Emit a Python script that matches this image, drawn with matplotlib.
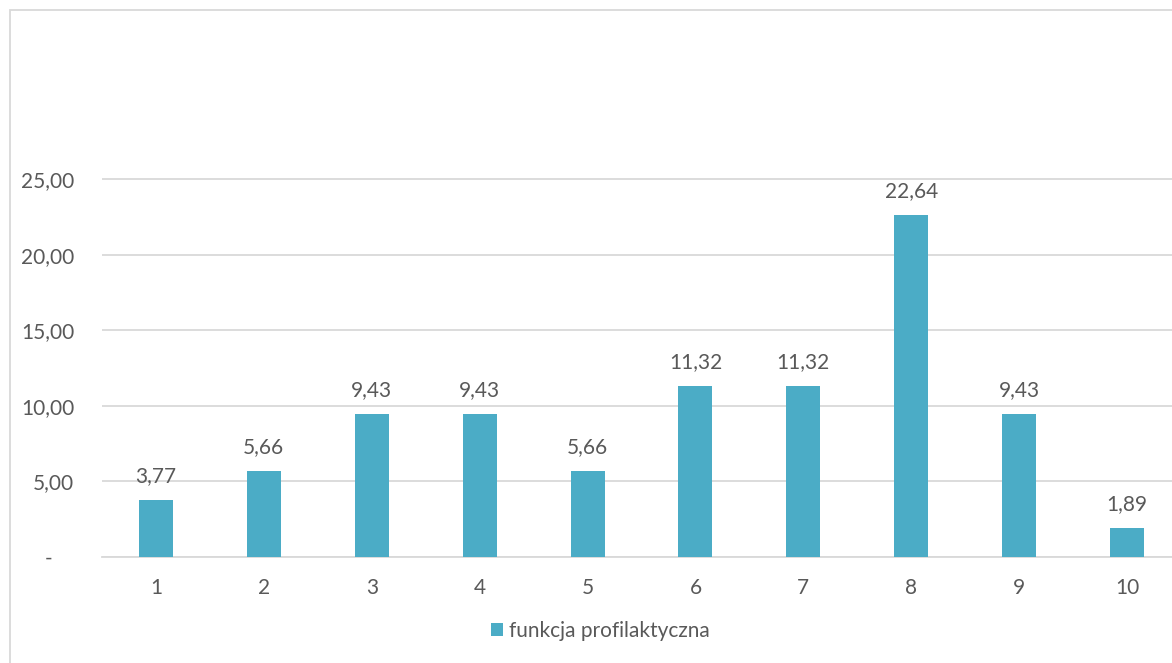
import matplotlib.pyplot as plt
from matplotlib.patches import Rectangle

# dane
kategorie = ['1', '2', '3', '4', '5', '6', '7', '8', '9', '10']
wartosci = [3.77, 5.66, 9.43, 9.43, 5.66, 11.32, 11.32, 22.64, 9.43, 1.89]
y_ticki = [0, 5, 10, 15, 20, 25]
seria = 'funkcja profilaktyczna'

kolor = '#4BACC6'
szary = '#595959'
siatka = '#D9D9D9'
rozmiar = 15

plt.rcParams['font.family'] = ['Lato', 'DejaVu Sans']

fig = plt.figure(figsize=(11.72, 6.63), dpi=100)
ax = fig.add_axes([102 / 1172, 106 / 663, 1079 / 1172, 453.6 / 663])

x = list(range(len(kategorie)))
ax.bar(x, wartosci, width=0.315, color=kolor, label=seria, zorder=3)

for xi, v in zip(x, wartosci):
    ax.annotate(f'{v:.2f}'.replace('.', ','), (xi, v), xytext=(0, 10),
                textcoords='offset points', ha='center', va='bottom',
                fontsize=rozmiar, color=szary)

ax.set_xlim(-0.5, len(kategorie) - 0.5)
ax.set_ylim(0, 30)
ax.set_xticks(x)
ax.set_xticklabels(kategorie)
ax.set_yticks(y_ticki)
ax.set_yticklabels(['-    '] + [f'{t:.2f}'.replace('.', ',') for t in y_ticki[1:]])
ax.tick_params(axis='both', length=0, labelsize=rozmiar, colors=szary)
ax.tick_params(axis='y', pad=20)
ax.tick_params(axis='x', pad=15)
ax.grid(axis='y', color=siatka, linewidth=1.3, zorder=0)
for s in ['top', 'right', 'left']:
    ax.spines[s].set_visible(False)
ax.spines['bottom'].set_color(siatka)
ax.spines['bottom'].set_linewidth(1.3)

fig.legend(loc='center', bbox_to_anchor=(0.512, 0.048), frameon=False,
           fontsize=rozmiar, labelcolor=szary, handlelength=0.6, handleheight=0.6,
           handletextpad=0.25)

# ramka wykresu
fig.patches.append(Rectangle((10 / 1172, -0.1), 1.2, 0.985 + 0.1,
                             transform=fig.transFigure, fill=False,
                             edgecolor=siatka, linewidth=1.3))

fig.savefig('out.png', dpi=100)
